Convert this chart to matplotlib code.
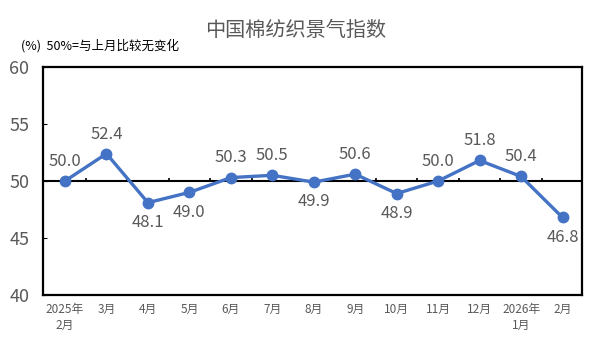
import numpy as np
from matplotlib import pyplot as plt

plt.rcParams['font.family'] = ['Noto Sans CJK SC', 'DejaVu Sans']

months = ['2025年\n2月', '3月', '4月', '5月', '6月', '7月', '8月', '9月',
          '10月', '11月', '12月', '2026年\n1月', '2月']
values = [50.0, 52.4, 48.1, 49.0, 50.3, 50.5, 49.9, 50.6, 48.9, 50.0, 51.8, 50.4, 46.8]
# label above (1) or below (-1) the point
label_side = [1, 1, -1, -1, 1, 1, -1, 1, -1, 1, 1, 1, -1]

fig = plt.figure(figsize=(5.91, 3.54), dpi=100)
ax = fig.add_axes([0.0728, 0.1667, 0.9120, 0.6440])

x = np.arange(len(values))
ax.axhline(50, color='black', linewidth=1.5, zorder=1)
# small category-boundary ticks sitting on the 50 line
ax.vlines(x[1:] - 0.5, 50, 50.3, color='black', linewidth=1.2, zorder=1)
ax.plot(x, values, color='#4472C4', linewidth=2.4, marker='o',
        markersize=7.5, zorder=3)

for xi, v, s in zip(x, values, label_side):
    ax.annotate('%.1f' % v, (xi, v), xytext=(0, 8 * s), textcoords='offset points',
                ha='center', va='bottom' if s > 0 else 'top',
                fontsize=12, color='#595959')

ax.set_xlim(-0.53, 12.47)
ax.set_ylim(40, 60)
ax.set_yticks([40, 45, 50, 55, 60])
ax.set_xticks(x)
ax.set_xticklabels(months, fontsize=8.5, color='#595959', linespacing=1.25)
ax.tick_params(axis='y', labelsize=13, colors='#595959', length=3,
               direction='in', pad=10)
ax.tick_params(axis='y', color='black')
ax.tick_params(axis='x', length=0, pad=6)
for sp in ax.spines.values():
    sp.set_linewidth(1.6)
    sp.set_color('black')

fig.text(0.5, 0.915, '中国棉纺织景气指数', ha='center', va='center',
         fontsize=14.5, color='#595959')
fig.text(0.035, 0.872, '(%)  50%=与上月比较无变化', ha='left', va='center',
         fontsize=9, color='black')

plt.savefig('out.png')
plt.close()
